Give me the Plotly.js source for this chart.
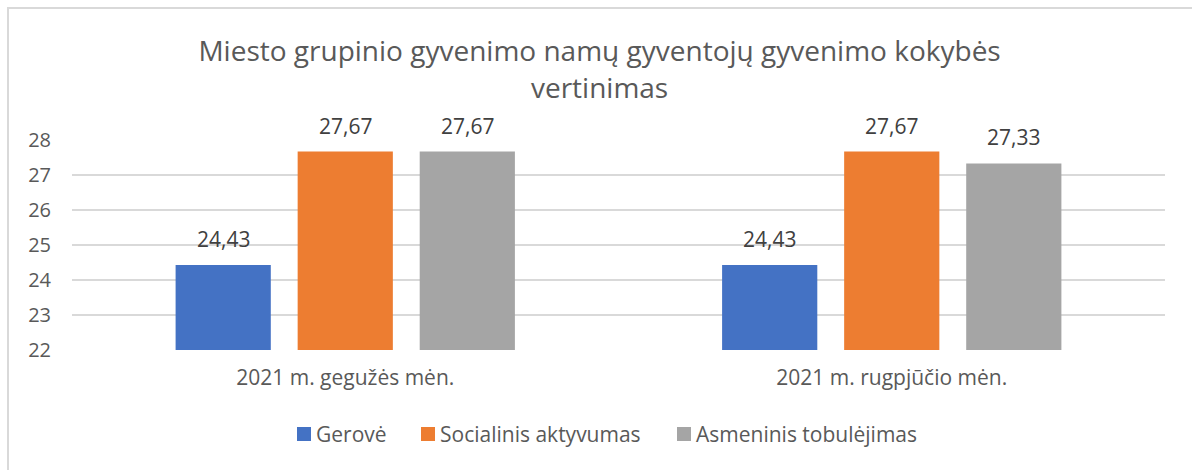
<!DOCTYPE html>
<html><head><meta charset="utf-8">
<script src="https://cdn.plot.ly/plotly-3.0.1.min.js"></script>
<style>
html,body{margin:0;padding:0;background:#fff;}
#wrap{position:relative;width:1192px;height:470px;overflow:hidden;}
#chart{position:absolute;left:0;top:0;width:1192px;height:470px;}
#frame{position:absolute;left:7px;top:7px;width:1200px;height:480px;border-left:2px solid #d9d9d9;border-top:2px solid #d9d9d9;pointer-events:none;}
</style></head>
<body><div id="wrap"><div id="chart"></div><div id="frame"></div></div>
<script>
const categories = ["2021 m. gegužės mėn.", "2021 m. rugpjūčio mėn."];
const seriesNames = ["Gerovė", "Socialinis aktyvumas", "Asmeninis tobulėjimas"];
const gerove = [24.43, 24.43];
const socialinis = [27.67, 27.67];
const asmeninis = [27.67, 27.33];
const colors = ["#4472C4", "#ED7D31", "#A5A5A5"];
const yTicks = [22, 23, 24, 25, 26, 27, 28];

const FONT = "'Open Sans', sans-serif";
const BARGAP = 0.33, BARGROUPGAP = 0.22;
const vals = [gerove, socialinis, asmeninis];
const traces = vals.map((v, i) => ({
  type: "bar", name: seriesNames[i], x: categories, y: v,
  marker: {color: colors[i]},
  hoverinfo: "skip", showlegend: false
}));

// plot area in pixels (for legend placement)
const L = 72, R = 27, T = 140, B = 120, W = 1192, H = 470;
const pw = W - L - R, ph = H - T - B;
const px = x => (x - L) / pw;
const py = y => (H - B - y) / ph;
const shapes = [], annotations = [];

// value labels above bars, positioned on the category axis
const slot = (1 - BARGAP) / vals.length;
vals.forEach((v, i) => {
  v.forEach((val, c) => {
    annotations.push({xref: "x", yref: "y", x: c + (i - (vals.length - 1) / 2) * slot, y: val,
      xanchor: "center", yanchor: "bottom", yshift: 10, showarrow: false,
      text: val.toFixed(2).replace(".", ","),
      font: {family: FONT, size: 21, color: "#404040"}});
  });
});

// legend
const legendSquares = [297, 421, 677];
const legendY = 434, sq = 14;
seriesNames.forEach((n, i) => {
  const x0 = legendSquares[i];
  shapes.push({type: "rect", xref: "paper", yref: "paper",
    x0: px(x0), x1: px(x0 + sq), y0: py(legendY + sq / 2), y1: py(legendY - sq / 2),
    fillcolor: colors[i], line: {width: 0}});
  annotations.push({xref: "paper", yref: "paper", x: px(x0 + sq + 3), y: py(legendY),
    xanchor: "left", yanchor: "middle", showarrow: false, text: n,
    font: {family: FONT, size: 21, color: "#595959"}});
});

const layout = {
  width: W, height: H,
  margin: {l: L, r: R, t: T, b: B},
  paper_bgcolor: "rgba(0,0,0,0)", plot_bgcolor: "rgba(0,0,0,0)",
  separators: ",.",
  barmode: "group", bargap: BARGAP, bargroupgap: BARGROUPGAP,
  font: {family: FONT, color: "#595959"},
  title: {
    text: "Miesto grupinio gyvenimo namų gyventojų gyvenimo kokybės<br>vertinimas",
    font: {family: FONT, size: 28, color: "#595959"},
    x: 0.503, xanchor: "center", y: 0.87, yanchor: "top", yref: "container"
  },
  xaxis: {
    type: "category", showgrid: false, showline: false, zeroline: false,
    ticks: "", ticklabelstandoff: 13,
    tickfont: {family: FONT, size: 21, color: "#595959"}
  },
  yaxis: {
    range: [22, 28], tickvals: yTicks, ticktext: yTicks.map(String),
    showgrid: true, gridcolor: "#d9d9d9", gridwidth: 2,
    zeroline: false, showline: false, ticks: "", ticklabelstandoff: 20,
    tickfont: {family: FONT, size: 20, color: "#595959"}
  },
  showlegend: false,
  shapes: shapes, annotations: annotations
};
Plotly.newPlot("chart", traces, layout, {staticPlot: true, displayModeBar: false});
</script></body></html>
